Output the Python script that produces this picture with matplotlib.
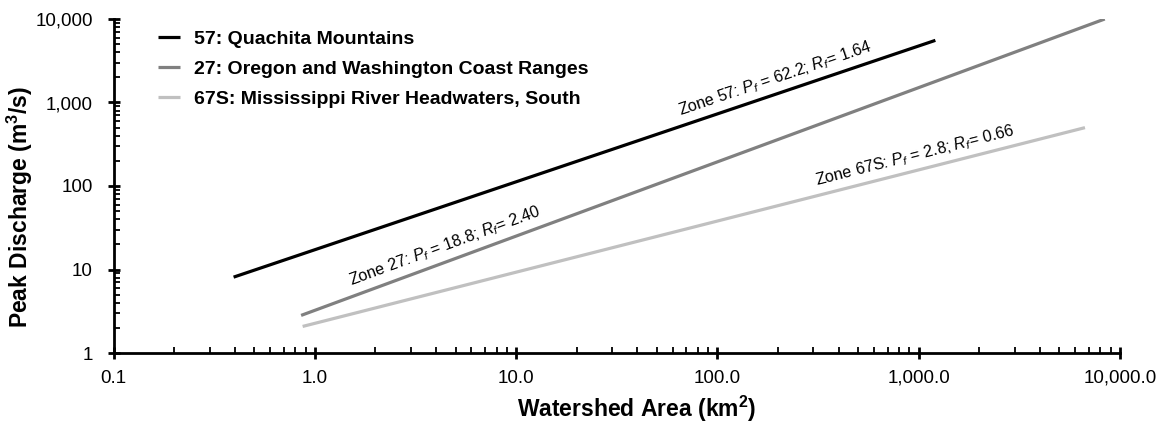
import numpy as np
import matplotlib
matplotlib.use("Agg")
import matplotlib.pyplot as plt
from matplotlib.ticker import FixedLocator, NullFormatter

plt.rcParams['font.family'] = ['Liberation Sans', 'DejaVu Sans']
plt.rcParams['mathtext.fontset'] = 'custom'
plt.rcParams['mathtext.rm'] = 'Liberation Sans'
plt.rcParams['mathtext.it'] = 'Liberation Sans:italic'
plt.rcParams['mathtext.bf'] = 'Liberation Sans:bold'

# ---- data ----
series_names = ["57: Quachita Mountains",
                "27: Oregon and Washington Coast Ranges",
                "67S: Mississippi River Headwaters, South"]
area_57 = [0.395, 1210.0]
peak_57 = [8.1, 5550.0]
area_27 = [0.855, 8400.0]
peak_27 = [2.82, 10000.0]
area_67s = [0.87, 6700.0]
peak_67s = [2.08, 500.0]
annot_texts = [r"Zone 57: $P_f$ = 62.2; $R_f$= 1.64",
               r"Zone 27: $P_f$ = 18.8; $R_f$= 2.40",
               r"Zone 67S: $P_f$ = 2.8; $R_f$= 0.66"]
annot_x = [205.0, 4.7, 1000.0]
x_ticks = [0.1, 1, 10, 100, 1000, 10000]
x_ticklabels = ["0.1", "1.0", "10.0", "100.0", "1,000.0", "10,000.0"]
y_ticks = [1, 10, 100, 1000, 10000]
y_ticklabels = ["1", "10", "100", "1,000", "10,000"]

colors = ["#000000", "#808080", "#c0c0c0"]

W, H = 1165, 423
fig = plt.figure(figsize=(W / 100, H / 100), dpi=100)
ax = fig.add_axes([113.5 / W, 1 - 353 / H, (1120 - 113.5) / W, (353 - 19) / H])

areas = [area_57, area_27, area_67s]
peaks = [peak_57, peak_27, peak_67s]
for a, p, c, n in zip(areas, peaks, colors, series_names):
    ax.plot(a, p, color=c, lw=2.3, label=n, solid_capstyle='butt')

ax.set_xscale('log')
ax.set_yscale('log')
ax.set_xlim(0.1, 10000)
ax.set_ylim(1, 10000)

ax.xaxis.set_major_locator(FixedLocator(x_ticks))
ax.set_xticklabels(x_ticklabels)
ax.yaxis.set_major_locator(FixedLocator(y_ticks))
ax.set_yticklabels(y_ticklabels)
minors_x = [m * 10.0 ** e for e in range(-1, 4) for m in range(2, 10)]
minors_y = [m * 10.0 ** e for e in range(0, 4) for m in range(2, 10)]
ax.xaxis.set_minor_locator(FixedLocator(minors_x))
ax.yaxis.set_minor_locator(FixedLocator(minors_y))
ax.xaxis.set_minor_formatter(NullFormatter())
ax.yaxis.set_minor_formatter(NullFormatter())

for s in ['top', 'right']:
    ax.spines[s].set_visible(False)
for s in ['left', 'bottom']:
    ax.spines[s].set_linewidth(2.0)

ax.tick_params(axis='both', which='major', direction='inout', length=9, width=2.0,
               labelsize=13.5, colors='black')
ax.tick_params(axis='x', which='major', pad=7.5)
ax.tick_params(axis='y', which='major', pad=10.5)
ax.tick_params(axis='both', which='minor', direction='in', length=4, width=1.3)

# axis titles
fig.text(517 / W, 1 - 417 / H, "Watershed Area (km$^\\mathbf{2}$)",
         fontsize=16.5, fontweight='bold', ha='left', va='baseline')
fig.text(35 / W, 1 - 328 / H, "Peak Discharge (m$^\\mathbf{3}$/s)",
         fontsize=16.5, fontweight='bold', ha='left', va='bottom',
         rotation=90, rotation_mode='anchor')

leg = ax.legend(loc='upper left', bbox_to_anchor=(0.044, 0.966), frameon=False,
                prop={'weight': 'bold', 'size': 14}, handlelength=1.15,
                handletextpad=0.7, labelspacing=0.63, borderpad=0, borderaxespad=0)

# annotations aligned to lines
fig.canvas.draw()
for a, p, txt, xa in zip(areas, peaks, annot_texts, annot_x):
    la, lp = np.log10(a), np.log10(p)
    slope = (lp[1] - lp[0]) / (la[1] - la[0])
    ya = 10 ** (lp[0] + slope * (np.log10(xa) - la[0]))
    p0 = ax.transData.transform((a[0], p[0]))
    p1 = ax.transData.transform((a[1], p[1]))
    ang = np.degrees(np.arctan2(p1[1] - p0[1], p1[0] - p0[0]))
    d = 4.0
    off = (-np.sin(np.radians(ang)) * d, np.cos(np.radians(ang)) * d)
    ax.annotate(txt, xy=(xa, ya), xytext=off, textcoords='offset points',
                rotation=ang, rotation_mode='anchor', ha='center', va='bottom',
                fontsize=11.6)

fig.savefig("out.png", dpi=100)
